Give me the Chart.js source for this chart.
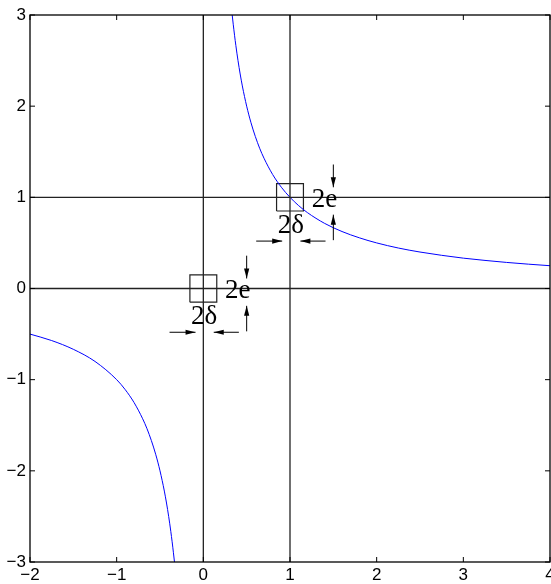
<!DOCTYPE html>
<html>
<head>
<meta charset="utf-8">
<script src="https://cdn.jsdelivr.net/npm/chart.js@4"></script>
<style>
html,body{margin:0;padding:0;background:#fff;}
#wrap{width:551px;height:584px;}
</style>
</head>
<body>
<div id="wrap"><canvas id="c" width="551" height="584"></canvas></div>
<script>
// ---- data ----
const rightX = [0.333,0.345,0.36,0.375,0.4,0.425,0.45,0.5,0.55,0.6,0.65,0.7,0.8,0.9,1.0,1.1,1.2,1.4,1.6,1.8,2.0,2.25,2.5,2.75,3.0,3.25,3.5,3.75,4.0];
const rightY = [3.0,2.899,2.778,2.667,2.5,2.353,2.222,2.0,1.818,1.667,1.538,1.429,1.25,1.111,1.0,0.909,0.833,0.714,0.625,0.556,0.5,0.444,0.4,0.364,0.333,0.308,0.286,0.267,0.25];
const leftX  = [-2.0,-1.75,-1.5,-1.25,-1.0,-0.9,-0.8,-0.7,-0.65,-0.6,-0.55,-0.5,-0.45,-0.425,-0.4,-0.375,-0.36,-0.345,-0.333];
const leftY  = [-0.5,-0.571,-0.667,-0.8,-1.0,-1.111,-1.25,-1.429,-1.538,-1.667,-1.818,-2.0,-2.222,-2.353,-2.5,-2.667,-2.778,-2.899,-3.0];

const refVerticalX = [0, 1];
const refHorizontalY = [0, 1];

const boxCentersX = [0, 1];
const boxCentersY = [0, 1];
const boxHalfDelta = 0.155;
const boxHalfE = 0.15;

const xTicks = [-2,-1,0,1,2,3,4];
const xTickLabels = ['\u22122','\u22121','0','1','2','3','4'];
const yTicks = [-3,-2,-1,0,1,2,3];
const yTickLabels = ['\u22123','\u22122','\u22121','0','1','2','3'];

const labelE = '2e';
const labelDelta = '2\u03b4';

// ---- build datasets ----
const XMIN=-2, XMAX=4, YMIN=-3, YMAX=3;
const datasets = [];
refVerticalX.forEach(v=>datasets.push({data:[{x:v,y:YMIN},{x:v,y:YMAX}],borderColor:'#222',borderWidth:1.3,showLine:true,pointRadius:0}));
refHorizontalY.forEach(v=>datasets.push({data:[{x:XMIN,y:v},{x:XMAX,y:v}],borderColor:'#222',borderWidth:1.3,showLine:true,pointRadius:0}));
datasets.push({data:rightX.map((v,i)=>({x:v,y:rightY[i]})),borderColor:'#0000ff',borderWidth:1,showLine:true,pointRadius:0,cubicInterpolationMode:'monotone'});
datasets.push({data:leftX.map((v,i)=>({x:v,y:leftY[i]})),borderColor:'#0000ff',borderWidth:1,showLine:true,pointRadius:0,cubicInterpolationMode:'monotone'});
boxCentersX.forEach((cx,i)=>{
  const cy=boxCentersY[i];
  datasets.push({data:[
    {x:cx-boxHalfDelta,y:cy-boxHalfE},{x:cx+boxHalfDelta,y:cy-boxHalfE},
    {x:cx+boxHalfDelta,y:cy+boxHalfE},{x:cx-boxHalfDelta,y:cy+boxHalfE},
    {x:cx-boxHalfDelta,y:cy-boxHalfE}],borderColor:'#222',borderWidth:1.2,showLine:true,pointRadius:0});
});

function arrow(ctx,x1,y1,x2,y2){
  ctx.beginPath();ctx.moveTo(x1,y1);ctx.lineTo(x2,y2);ctx.stroke();
  const ang=Math.atan2(y2-y1,x2-x1), len=10, hw=2.6;
  const bx=x2-len*Math.cos(ang), by=y2-len*Math.sin(ang);
  ctx.beginPath();
  ctx.moveTo(x2,y2);
  ctx.lineTo(bx+hw*Math.sin(ang), by-hw*Math.cos(ang));
  ctx.lineTo(bx-hw*Math.sin(ang), by+hw*Math.cos(ang));
  ctx.closePath();ctx.fill();
}

const annot = {
  id:'annot',
  afterDatasetsDraw(chart){
    const {ctx, chartArea:a, scales:{x,y}} = chart;
    ctx.save();
    ctx.strokeStyle='#000';ctx.fillStyle='#000';ctx.lineWidth=1.3;
    ctx.strokeRect(a.left,a.top,a.right-a.left,a.bottom-a.top);
    ctx.lineWidth=1;
    const L=5;
    xTicks.forEach(v=>{const p=x.getPixelForValue(v);
      ctx.beginPath();ctx.moveTo(p,a.bottom);ctx.lineTo(p,a.bottom-L);ctx.moveTo(p,a.top);ctx.lineTo(p,a.top+L);ctx.stroke();});
    yTicks.forEach(v=>{const p=y.getPixelForValue(v);
      ctx.beginPath();ctx.moveTo(a.left,p);ctx.lineTo(a.left+L,p);ctx.moveTo(a.right,p);ctx.lineTo(a.right-L,p);ctx.stroke();});
    const X=v=>x.getPixelForValue(v), Y=v=>y.getPixelForValue(v);
    boxCentersX.forEach((cx,i)=>{
      const cy=boxCentersY[i];
      const vx=cx+0.5;
      arrow(ctx,X(vx),Y(cy+0.36),X(vx),Y(cy+0.11));
      arrow(ctx,X(vx),Y(cy-0.47),X(vx),Y(cy-0.19));
      const hy=cy-0.48;
      arrow(ctx,X(cx-0.39),Y(hy),X(cx-0.09),Y(hy));
      arrow(ctx,X(cx+0.41),Y(hy),X(cx+0.12),Y(hy));
      ctx.font='27px "Liberation Serif", "DejaVu Serif", serif';
      ctx.textBaseline='middle';
      ctx.textAlign='left';
      ctx.fillText(labelE,X(cx+0.25),Y(cy-0.03));
      ctx.textAlign='center';
      ctx.fillText(labelDelta,X(cx+0.01),Y(cy-0.31));
    });
    ctx.restore();
  }
};

const tickFont = {family:'"Liberation Sans Narrow", "Liberation Sans", Arial, sans-serif',size:17};

new Chart(document.getElementById('c'),{
  type:'scatter',
  data:{datasets},
  options:{
    responsive:false,animation:false,
    layout:{padding:{top:15,right:1,left:0,bottom:0},autoPadding:false},
    plugins:{legend:{display:false},tooltip:{enabled:false}},
    elements:{line:{tension:0}},
    scales:{
      x:{type:'linear',min:XMIN,max:XMAX,
        afterBuildTicks:s=>{s.ticks=xTicks.map(v=>({value:v}));},
        afterFit:s=>{s.height=22;s.paddingLeft=0;s.paddingRight=0;},
        grid:{display:false,drawTicks:false},border:{display:false},
        ticks:{padding:3,color:'#000',font:tickFont,
          maxRotation:0,autoSkip:false,callback:v=>xTickLabels[xTicks.indexOf(v)]}},
      y:{type:'linear',min:YMIN,max:YMAX,
        afterBuildTicks:s=>{s.ticks=yTicks.map(v=>({value:v}));},
        afterFit:s=>{s.width=30;s.paddingTop=0;s.paddingBottom=0;},
        grid:{display:false,drawTicks:false},border:{display:false},
        ticks:{padding:4,color:'#000',font:tickFont,
          autoSkip:false,callback:v=>yTickLabels[yTicks.indexOf(v)]}}
    }
  },
  plugins:[annot]
});
</script>
</body>
</html>
